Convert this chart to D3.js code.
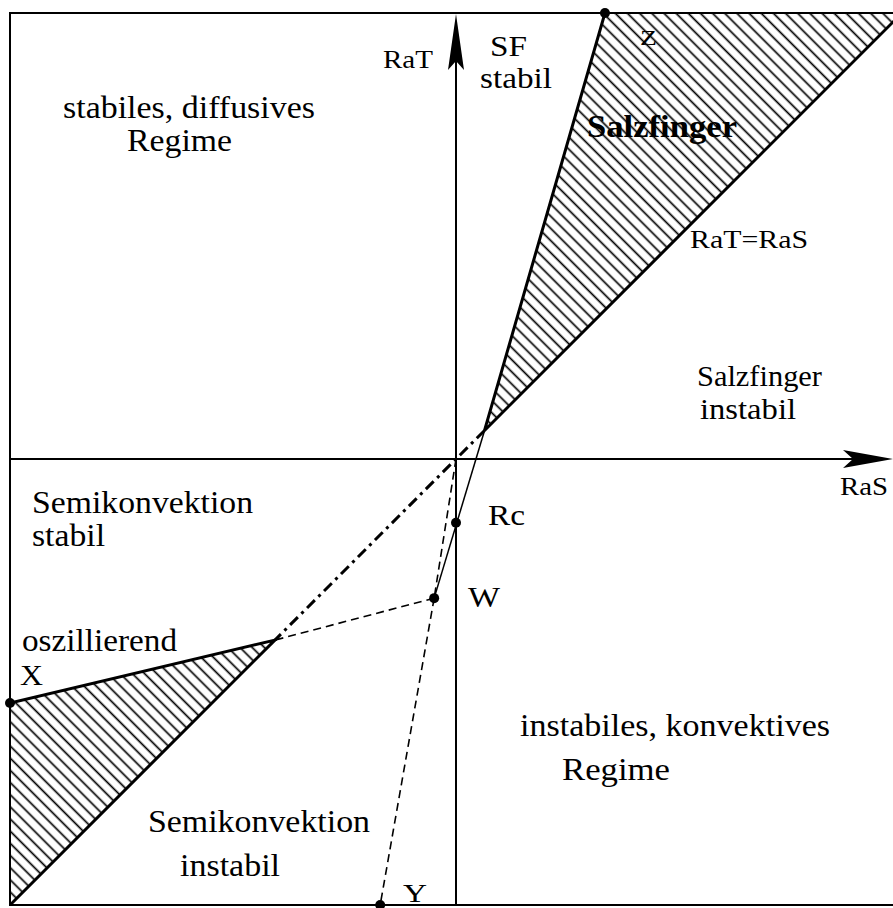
<!DOCTYPE html>
<html>
<head>
<meta charset="utf-8">
<script src="https://cdn.jsdelivr.net/npm/d3@7"></script>
<style>
  html, body { margin: 0; padding: 0; background: #fff; }
  svg { display: block; }
  text { font-family: "Liberation Serif", "DejaVu Serif", serif; fill: #000; }
</style>
</head>
<body>
<div id="chart"></div>
<script>
// ---- data (RaS, RaT in diagram units, origin at 0,0) ----
const pointNames = ["Z", "Rc", "W", "X", "Y"];
const pointRaS   = [3.34, 0.00, -0.49, -10.0, -1.70];
const pointRaT   = [10.0, -1.43, -3.12, -5.47, -10.0];
// tip of the salt-finger wedge (on RaT = RaS) and apex of the oscillating wedge
const tipRaS = 0.64, tipRaT = 0.64;
const apexRaS = -4.06, apexRaT = -4.06;
const domainRaS = [-10, 10];
const domainRaT = [-10, 10];

// ---- labels ----
const labelTexts = ["RaT", "SF", "stabil", "stabiles, diffusives", "Regime", "Salzfinger",
  "RaT=RaS", "Salzfinger", "instabil", "RaS", "Semikonvektion", "stabil", "Rc", "W",
  "oszillierend", "X", "instabiles, konvektives", "Regime", "Semikonvektion", "instabil", "Y", "Z"];
// layout: [x, baseline, width, fontSize, weight]
const labelLayout = [
  [383, 68, 50, 26, 400],
  [490, 56, 37, 29, 400],
  [480, 88, 72, 29, 400],
  [63, 118, 252, 32, 400],
  [127, 151, 105, 32, 400],
  [587, 137, 150, 32, 700],
  [690, 248, 118, 26, 400],
  [697, 386, 125, 29, 400],
  [700, 419, 96, 29, 400],
  [840, 495, 48, 26, 400],
  [32, 513, 221, 32, 400],
  [32, 546, 73, 32, 400],
  [488, 525, 37, 30, 400],
  [468, 607, 32, 30, 400],
  [22, 651, 155, 32, 400],
  [20, 685, 23, 30, 400],
  [520, 736, 310, 32, 400],
  [562, 780, 108, 32, 400],
  [148, 832, 222, 32, 400],
  [180, 876, 100, 32, 400],
  [403, 902, 24, 26, 400],
  [640, 45, 17, 22, 400]
];

(function () {
const W = 893, H = 908;
const svg = d3.select("#chart").append("svg").attr("width", W).attr("height", H);
svg.append("rect").attr("width", W).attr("height", H).attr("fill", "#fff");

const x = d3.scaleLinear().domain(domainRaS).range([10, 902]);
const y = d3.scaleLinear().domain(domainRaT).range([905, 13]);
const fL = x(domainRaS[0]), fR = 893, fT = y(domainRaT[1]), fB = y(domainRaT[0]);

const defs = svg.append("defs");
const pat = defs.append("pattern").attr("id", "hatch")
  .attr("patternUnits", "userSpaceOnUse").attr("width", 8.6).attr("height", 8.6)
  .attr("patternTransform", "rotate(-45)");
pat.append("line").attr("x1", 4.3).attr("y1", 0).attr("x2", 4.3).attr("y2", 8.6)
  .attr("stroke", "#000").attr("stroke-width", 1.7);
defs.append("clipPath").attr("id", "frame").append("rect")
  .attr("x", fL).attr("y", fT).attr("width", fR - fL).attr("height", fB - fT);

const g = svg.append("g").attr("clip-path", "url(#frame)");
const line = d3.line().x(d => x(d[0])).y(d => y(d[1]));

const Z = [pointRaS[0], pointRaT[0]];
const Wp = [pointRaS[2], pointRaT[2]];
const X = [pointRaS[3], pointRaT[3]];
const Yp = [pointRaS[4], pointRaT[4]];
const T = [tipRaS, tipRaT];
const P = [apexRaS, apexRaT];
const far = [domainRaS[1], domainRaT[1]];
const nearCorner = [domainRaS[0], domainRaT[0]];

// hatched regions
g.append("path").attr("d", line([Z, far, T]) + "Z").attr("fill", "url(#hatch)");
g.append("path").attr("d", line([X, P, nearCorner]) + "Z").attr("fill", "url(#hatch)");

// frame
svg.append("path")
  .attr("d", `M${fR},${fT}H${fL}V${fB}H${fR}`)
  .attr("fill", "none").attr("stroke", "#000").attr("stroke-width", 2);

// axes
const ox = x(0), oy = y(0);
svg.append("line").attr("x1", fL).attr("x2", fR - 10).attr("y1", oy).attr("y2", oy)
  .attr("stroke", "#000").attr("stroke-width", 2);
svg.append("line").attr("x1", ox).attr("x2", ox).attr("y1", fB).attr("y2", fT + 10)
  .attr("stroke", "#000").attr("stroke-width", 2);
// arrowheads
svg.append("path")
  .attr("d", `M${ox},${fT + 1}L${ox + 8},${fT + 57}L${ox},${fT + 48}L${ox - 8},${fT + 57}Z`)
  .attr("fill", "#000");
svg.append("path")
  .attr("d", `M${fR},${oy}L${fR - 50},${oy - 9}L${fR - 40},${oy}L${fR - 50},${oy + 9}Z`)
  .attr("fill", "#000");

// thick solid boundaries
g.append("path").attr("d", line([Z, T, far])).attr("fill", "none")
  .attr("stroke", "#000").attr("stroke-width", 3);
g.append("path").attr("d", line([X, P, nearCorner])).attr("fill", "none")
  .attr("stroke", "#000").attr("stroke-width", 3);
// dash-dot RaT = RaS between tip and apex
g.append("path").attr("d", line([T, P])).attr("fill", "none")
  .attr("stroke", "#000").attr("stroke-width", 3)
  .attr("stroke-dasharray", "11,5,3,5");
// thin solid line from tip through Rc to W
g.append("path").attr("d", line([T, Wp])).attr("fill", "none")
  .attr("stroke", "#000").attr("stroke-width", 1.5);
// dashed lines
[[[0, 0], Wp], [Wp, P], [Wp, Yp]].forEach(seg => {
  g.append("path").attr("d", line(seg)).attr("fill", "none")
    .attr("stroke", "#000").attr("stroke-width", 1.6)
    .attr("stroke-dasharray", "8,5");
});

// points
svg.append("g").selectAll("circle").data(pointNames).join("circle")
  .attr("cx", (d, i) => x(pointRaS[i]))
  .attr("cy", (d, i) => y(pointRaT[i]))
  .attr("r", 5).attr("fill", "#000");

// labels
svg.append("g").selectAll("text").data(labelTexts).join("text")
  .attr("x", (d, i) => labelLayout[i][0])
  .attr("y", (d, i) => labelLayout[i][1])
  .attr("textLength", (d, i) => labelLayout[i][2])
  .attr("lengthAdjust", "spacingAndGlyphs")
  .attr("font-size", (d, i) => labelLayout[i][3])
  .attr("font-weight", (d, i) => labelLayout[i][4])
  .text(d => d);
})();
</script>
</body>
</html>
